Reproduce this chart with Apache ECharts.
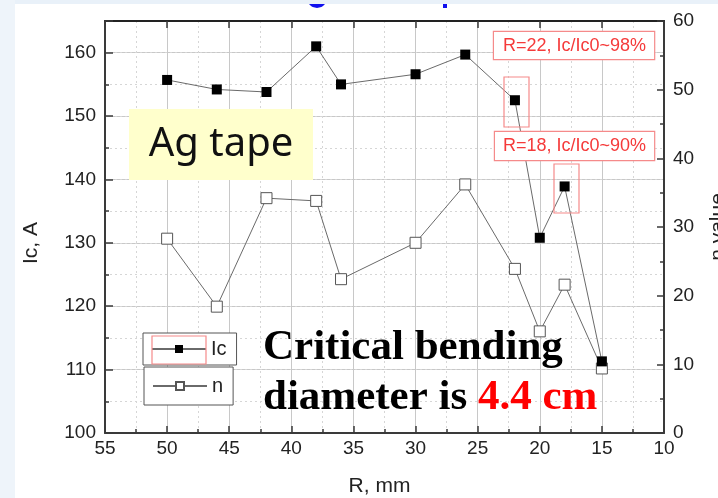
<!DOCTYPE html>
<html>
<head>
<meta charset="utf-8">
<script src="https://cdn.jsdelivr.net/npm/echarts@6/dist/echarts.min.js"></script>
<style>
  html, body { margin: 0; padding: 0; background: #fff; }
  #main { width: 718px; height: 498px; }
</style>
</head>
<body>
<div id="main"></div>
<script>
// bending radius, mm
const rValues = [50, 46, 42, 38, 36, 30, 26, 22, 20, 18, 15];
// critical current, A (left axis)
const icValues = [155.7, 154.2, 153.8, 161.0, 155.0, 156.6, 159.7, 152.5, 130.8, 138.9, 111.3];
// n value (right axis)
const nValues = [28.3, 18.4, 34.2, 33.8, 22.4, 27.7, 36.2, 23.9, 14.8, 21.6, 9.4];

const font = 'Liberation Sans';
const axisColor = '#3a3a3a';

const icData = rValues.map((r, i) => [r, icValues[i]]);
const nData = rValues.map((r, i) => [r, nValues[i]]);

const chart = echarts.init(document.getElementById('main'));

const option = {
  animation: false,
  backgroundColor: '#fff',
  grid: { left: 105, right: 54, top: 21, bottom: 65, containLabel: false, outerBoundsMode: 'none' },
  xAxis: [
    {
      type: 'value', min: 10, max: 55, interval: 5, inverse: true,
      name: 'R, mm', nameLocation: 'middle', nameGap: 43,
      nameTextStyle: { fontFamily: font, fontSize: 21, color: '#222', padding: [0, 10, 0, 0] },
      axisLine: { lineStyle: { color: axisColor, width: 2 } },
      axisTick: { inside: true, length: 7, lineStyle: { color: axisColor, width: 1.5 } },
      minorTick: { show: true, splitNumber: 2, length: 4, lineStyle: { color: axisColor, width: 1.5 } },
      axisLabel: { margin: 6, fontFamily: font, fontSize: 19, color: '#222' },
      splitLine: { show: true, lineStyle: { color: '#c8c8c8', width: 1 } },
      minorSplitLine: { show: true, lineStyle: { color: '#d6d6d6', type: [2, 3], width: 1 } }
    },
    {
      type: 'value', min: 10, max: 55, interval: 5, inverse: true, position: 'top',
      axisLine: { lineStyle: { color: '#222', width: 2 } },
      axisTick: { inside: true, length: 7, lineStyle: { color: axisColor, width: 1.5 } },
      axisLabel: { show: false },
      splitLine: { show: false }
    }
  ],
  yAxis: [
    {
      type: 'value', min: 100, max: 165, interval: 10, position: 'left',
      name: 'Ic, A', nameLocation: 'middle', nameGap: 63,
      nameTextStyle: { fontFamily: font, fontSize: 21, color: '#222', padding: [0, 32, 0, 0] },
      axisLine: { show: true, lineStyle: { color: axisColor, width: 2 } },
      axisTick: { inside: true, length: 8, lineStyle: { color: axisColor, width: 1.5 } },
      axisLabel: {
        margin: 9, fontFamily: font, fontSize: 19, color: '#222',
        formatter: v => (v % 10 === 0 ? String(v) : '')
      },
      splitLine: { show: true, lineStyle: { color: '#c8c8c8', width: 1 } }
    },
    {
      // helper for the dotted 5 A lines and minor ticks
      type: 'value', min: 100, max: 165, interval: 5, position: 'left',
      axisLine: { show: false },
      axisTick: { inside: true, length: 4, lineStyle: { color: axisColor, width: 1.5 } },
      axisLabel: { show: false },
      splitLine: { show: true, lineStyle: { color: '#d6d6d6', type: [2, 3], width: 1 } }
    },
    {
      type: 'value', min: 0, max: 60, interval: 10, position: 'right',
      name: 'n value', nameLocation: 'middle', nameGap: 44,
      nameTextStyle: { fontFamily: font, fontSize: 21, color: '#222' },
      axisLine: { show: true, lineStyle: { color: axisColor, width: 2 } },
      axisTick: { inside: true, length: 7, lineStyle: { color: axisColor, width: 1.5 } },
      minorTick: { show: true, splitNumber: 2, length: 4, lineStyle: { color: axisColor, width: 1.5 } },
      axisLabel: { margin: 9, fontFamily: font, fontSize: 19, color: '#222' },
      splitLine: { show: false }
    }
  ],
  legend: [
    {
      data: ['Ic'], left: 143, top: 333, backgroundColor: '#fff',
      borderColor: '#555', borderWidth: 1, padding: [6, 10, 6, 8],
      itemWidth: 54, itemHeight: 10,
      textStyle: { fontFamily: font, fontSize: 20, color: '#222' }
    },
    {
      data: ['n'], left: 144, top: 367, backgroundColor: '#fff',
      borderColor: '#555', borderWidth: 1, padding: [9, 10, 9, 8],
      itemWidth: 54, itemHeight: 10,
      textStyle: { fontFamily: font, fontSize: 20, color: '#222' }
    }
  ],
  series: [
    {
      name: 'Ic', type: 'line', xAxisIndex: 0, yAxisIndex: 0, data: icData,
      symbol: 'rect', symbolSize: 10, z: 5,
      lineStyle: { color: '#6a6a6a', width: 1 },
      itemStyle: { color: '#000', borderColor: '#000', borderWidth: 0 }
    },
    {
      name: 'n', type: 'line', xAxisIndex: 0, yAxisIndex: 2, data: nData,
      symbol: 'rect', symbolSize: 11, z: 4,
      lineStyle: { color: '#6a6a6a', width: 1 },
      itemStyle: { color: '#fff', borderColor: '#555', borderWidth: 1 }
    }
  ],
  graphic: [
    // slide background bits around the screenshot
    { type: 'rect', shape: { x: 0, y: 0, width: 718, height: 4 }, style: { fill: '#e9f1f9' }, z: 2 },
    { type: 'rect', shape: { x: 0, y: 0, width: 15, height: 498 }, style: { fill: '#eef4fa' }, z: 2 },
    {
      type: 'polygon', z: 3,
      shape: { points: [[309, 4], [325, 4], [323, 6], [321.4, 7], [317, 8], [312.6, 7], [311, 6]] },
      style: { fill: '#1010ee' }
    },
    { type: 'rect', shape: { x: 443, y: 4, width: 4, height: 4 }, style: { fill: '#1010ee' }, z: 3 },
    // Ag tape label
    { type: 'rect', shape: { x: 129, y: 109, width: 184, height: 71 }, style: { fill: '#ffffcc' }, z: 10 },
    {
      type: 'text', x: 221, y: 145, z: 11,
      style: { text: 'Ag tape', font: '40px "Noto Sans"', fill: '#111', align: 'center', verticalAlign: 'middle' }
    },
    // red annotations
    {
      type: 'text', x: 494, y: 32, z: 11,
      style: {
        text: 'R=22, Ic/Ic0~98%', font: '18px "Liberation Sans"', fill: '#f53a3a',
        backgroundColor: '#fff', borderColor: '#f58a8a', borderWidth: 1.2, padding: [5, 8, 4, 9]
      }
    },
    {
      type: 'text', x: 495, y: 132, z: 11,
      style: {
        text: 'R=18, Ic/Ic0~90%', font: '18px "Liberation Sans"', fill: '#f53a3a',
        backgroundColor: '#fff', borderColor: '#f58a8a', borderWidth: 1.2, padding: [5, 8, 5, 8]
      }
    },
    { type: 'rect', shape: { x: 504, y: 77, width: 25, height: 50 }, style: { fill: 'none', stroke: '#f58a8a', lineWidth: 1.2 }, z: 11 },
    { type: 'rect', shape: { x: 554, y: 164, width: 25, height: 49 }, style: { fill: 'none', stroke: '#f58a8a', lineWidth: 1.2 }, z: 11 },
    { type: 'rect', shape: { x: 152, y: 336, width: 54, height: 28 }, style: { fill: 'none', stroke: '#f58a8a', lineWidth: 1.2 }, z: 12 },
    // conclusion
    {
      type: 'text', x: 263, y: 348, z: 11,
      style: { text: 'Critical bending', font: 'bold 43px "Liberation Serif"', fill: '#000', verticalAlign: 'middle' }
    },
    {
      type: 'text', x: 263, y: 398, z: 11,
      style: {
        text: '{a|diameter is }{b|4.4 cm}', verticalAlign: 'middle',
        rich: {
          a: { font: 'bold 43px "Liberation Serif"', fill: '#000' },
          b: { font: 'bold 43px "Liberation Serif"', fill: '#ff0000' }
        }
      }
    }
  ]
};

chart.setOption(option);
</script>
</body>
</html>
